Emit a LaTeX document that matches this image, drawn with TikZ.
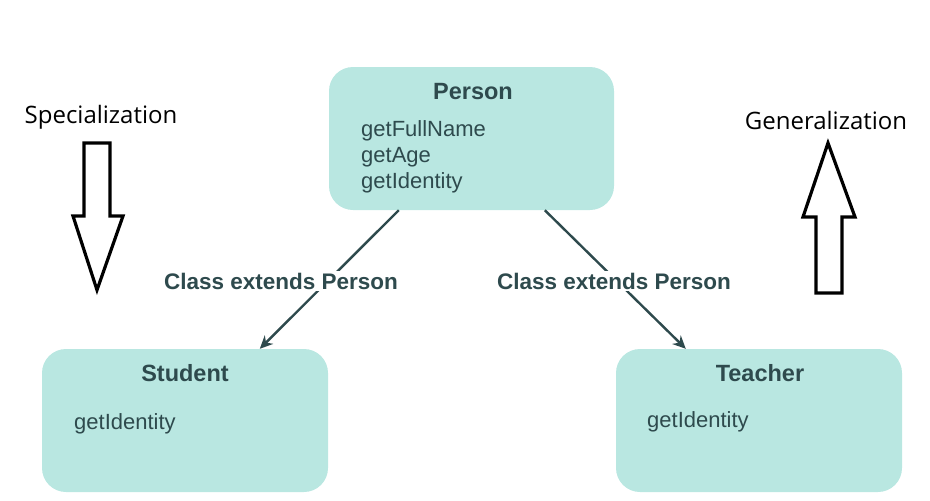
\documentclass[tikz,border=0pt]{standalone}
\usepackage{fontspec}
\setmainfont{Liberation Sans}
\newfontfamily\labelfont{Open Sans}
\usetikzlibrary{arrows.meta,calc}
\definecolor{boxfill}{RGB}{185,231,225}
\definecolor{ink}{RGB}{46,74,77}
\tikzset{
  classbox/.style={draw=none,fill=boxfill,rounded corners=24pt,inner sep=0pt},
  titletext/.style={font=\fontsize{23.5}{28}\selectfont\bfseries,text=ink,inner sep=0pt},
  methtext/.style={font=\fontsize{22}{26}\selectfont,text=ink,inner sep=0pt,anchor=west,align=left},
  reltext/.style={font=\fontsize{22.5}{27}\selectfont\bfseries,text=ink,fill=white,inner sep=2pt},
  relline/.style={draw=ink,line width=2.4pt,-{Stealth[length=13pt,width=12pt]}},
  bigarrow/.style={draw=black,line width=3.2pt,fill=white,line join=miter},
  sidetext/.style={font=\labelfont\fontsize{24}{28}\selectfont,text=black,inner sep=0pt}
}
\begin{document}
\begin{tikzpicture}[x=1pt,y=-1pt]
\useasboundingbox (0,0) rectangle (930,501);
% boxes
\node[classbox,minimum width=285pt,minimum height=143pt] (person) at (471.5,138.5) {};
\node[classbox,minimum width=286pt,minimum height=143pt] (student) at (185,420.5) {};
\node[classbox,minimum width=286pt,minimum height=143pt] (teacher) at (759,420.5) {};
% titles
\node[titletext] (ptitle) at (473,92) {Person};
\node[titletext] (stitle) at (185,373) {Student};
\node[titletext] (ttitle) at (760,373) {Teacher};
% methods
\node[methtext] (pm1) at (361,131) {getFullName};
\node[methtext] (pm2) at (361,157) {getAge};
\node[methtext] (pm3) at (361,183) {getIdentity};
\node[methtext] (sm1) at (74,424) {getIdentity};
\node[methtext] (tm1) at (647,422) {getIdentity};
% connectors
\coordinate (ps) at ($(person.south west)+(70,0)$);
\coordinate (pt) at ($(person.south west)+(216,0)$);
\coordinate (sn) at ($(student.north west)+(218,0)$);
\coordinate (tn) at ($(teacher.north west)+(70,0)$);
\draw[relline] (ps) -- (sn);
\draw[relline] (pt) -- (tn);
\node[reltext] (rel1) at (281,281) {Class extends Person};
\node[reltext] (rel2) at (614,281) {Class extends Person};
% side arrows
\node[sidetext] (spec) at (101,117) {Specialization};
\node[sidetext] (gen) at (826,120) {Generalization};
\draw[bigarrow] (84,143) -- (110,143) -- (110,216) -- (123,216) -- (97,290) -- (73,216) -- (84,216) -- cycle;
\draw[bigarrow] (816,293) -- (842,293) -- (842,217) -- (855,217) -- (828,143) -- (803,217) -- (816,217) -- cycle;
\end{tikzpicture}
\end{document}
